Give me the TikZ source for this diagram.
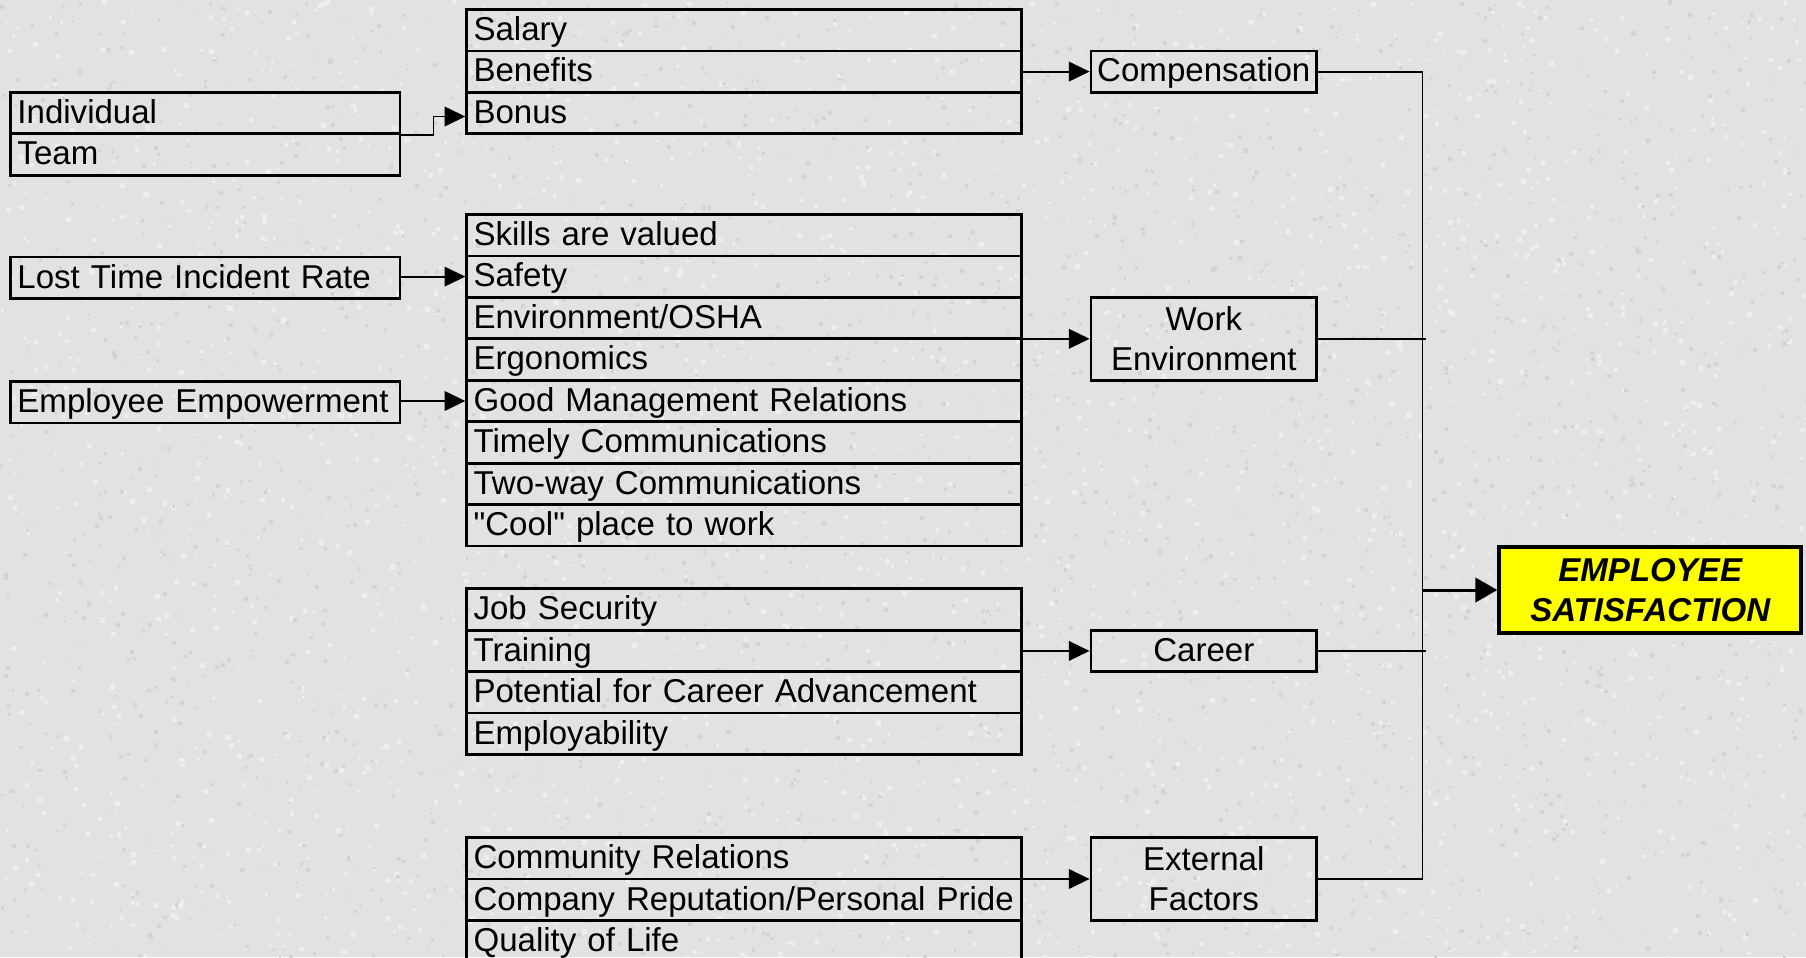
\documentclass[tikz,border=0pt]{standalone}
\usepackage{fontspec}
\setmainfont{Liberation Sans}
\usetikzlibrary{arrows.meta,calc}
\definecolor{paper}{HTML}{E2E2E2}
\definecolor{fleckhi}{HTML}{EEEEEE}
\definecolor{flecklo}{HTML}{D3D3D3}
\definecolor{goalyellow}{HTML}{FFFF00}
% a straight double quote, set as a glyph so the TeX mapping leaves it alone
\newcommand\dquote{\XeTeXglyph\XeTeXcharglyph"22\relax}

\begin{document}
\begin{tikzpicture}[x=1pt,y=-1pt,
  every node/.style={font=\fontsize{28.7}{35}\selectfont, inner sep=0pt},
  boxline/.style={draw, line width=2.3pt},
  itemcell/.style={boxline, anchor=north west, text width=470pt, inner xsep=6pt,
    minimum height=36pt, align=left, text height=20.5pt, text depth=2.5pt},
  leftcell/.style={itemcell, text width=326pt},
  hubbox/.style={boxline, anchor=north west, minimum width=196pt, minimum height=36pt,
    align=center, text height=20.5pt, text depth=2.5pt},
  hubtall/.style={boxline, anchor=north west, minimum width=196pt, minimum height=72pt,
    align=center},
  goalbox/.style={draw, line width=3.5pt, fill=goalyellow, anchor=north west,
    minimum width=262pt, minimum height=75pt, align=center,
    font=\fontsize{28.7}{35}\selectfont\bfseries\itshape},
  feed/.style={line width=1.6pt, -{Triangle[length=18pt,width=17pt]}},
  trunk/.style={line width=1.6pt},
  goallink/.style={line width=2.6pt, -{Triangle[length=19pt,width=21pt]}}
]
\useasboundingbox (0,0) rectangle (1568,831);
\clip (0,0) rectangle (1568,831);
\fill[paper] (0,0) rectangle (1568,831);

% mottled stone backdrop: soft light and dark flecks
\pgfmathsetseed{4711}
\foreach \k in {1,...,2500}{
  \pgfmathsetmacro{\px}{rnd*1568}
  \pgfmathsetmacro{\py}{rnd*831}
  \pgfmathsetmacro{\pr}{1.5+rnd*3}
  \fill[fleckhi] (\px,\py) rectangle ++(\pr,\pr);
}
\foreach \k in {1,...,2500}{
  \pgfmathsetmacro{\px}{rnd*1568}
  \pgfmathsetmacro{\py}{rnd*831}
  \pgfmathsetmacro{\pr}{1.2+rnd*2.5}
  \fill[flecklo] (\px,\py) rectangle ++(\pr,\pr);
}

% Compensation factors
\node[itemcell] (salary)   at (404,7)  {Salary};
\node[itemcell] (benefits) at (404,43) {Benefits};
\node[itemcell] (bonus)    at (404,79) {Bonus};

% Bonus drivers
\node[leftcell] (indiv) at (8,79)  {Individual};
\node[leftcell] (team)  at (8,115) {Team};

% Work environment drivers
\node[leftcell] (lost)  at (8,222) {Lost Time Incident Rate};
\node[leftcell] (empow) at (8,330) {Employee Empowerment};

% Work environment factors
\node[itemcell] (skills)   at (404,185) {Skills are valued};
\node[itemcell] (safety)   at (404,221) {Safety};
\node[itemcell] (envosha)  at (404,257) {Environment/OSHA};
\node[itemcell] (ergo)     at (404,293) {Ergonomics};
\node[itemcell] (goodmgmt) at (404,329) {Good Management Relations};
\node[itemcell] (timely)   at (404,365) {Timely Communications};
\node[itemcell] (twoway)   at (404,401) {Two-way Communications};
\node[itemcell] (cool)     at (404,437) {\dquote Cool\dquote{} place to work};

% Career factors
\node[itemcell] (jobsec)    at (404,510) {Job Security};
\node[itemcell] (training)  at (404,546) {Training};
\node[itemcell] (potential) at (404,582) {Potential for Career Advancement};
\node[itemcell] (employ)    at (404,618) {Employability};

% External factors
\node[itemcell] (community)  at (404,726) {Community Relations};
\node[itemcell] (reputation) at (404,762) {Company Reputation/Personal Pride};
\node[itemcell] (quality)    at (404,798) {Quality of Life};

% Category boxes
\node[hubbox]  (comp)    at (946,43)  {Compensation};
\node[hubtall] (workenv) at (946,257) {Work\\Environment};
\node[hubbox]  (career)  at (946,546) {Career};
\node[hubtall] (ext)     at (946,726) {External\\Factors};

% Goal
\node[goalbox] (goal) at (1300,473) {EMPLOYEE\\SATISFACTION};

% Connectors into the categories
\draw[feed] (indiv.south east) -- ++(28,0) |- ($(bonus.west)+(0,3)$);
\draw[feed] (comp.west -| benefits.east) -- (comp.west);
\draw[feed] (safety.west -| lost.east) -- (safety.west);
\draw[feed] (goodmgmt.west -| empow.east) -- (goodmgmt.west);
\draw[feed] (workenv.west -| envosha.east) -- (workenv.west);
\draw[feed] (career.west -| training.east) -- (career.west);
\draw[feed] (ext.west -| community.east) -- (ext.west);

% Collecting trunk
\coordinate (bus) at (1235,0);
\draw[trunk] (comp.east) -| (bus |- ext.east) -- (ext.east);
\draw[trunk] (workenv.east) -- ($(bus |- workenv.east)+(3,0)$);
\draw[trunk] (career.east) -- ($(bus |- career.east)+(3,0)$);
\draw[goallink] (bus |- goal.west) -- (goal.west);
\end{tikzpicture}
\end{document}
